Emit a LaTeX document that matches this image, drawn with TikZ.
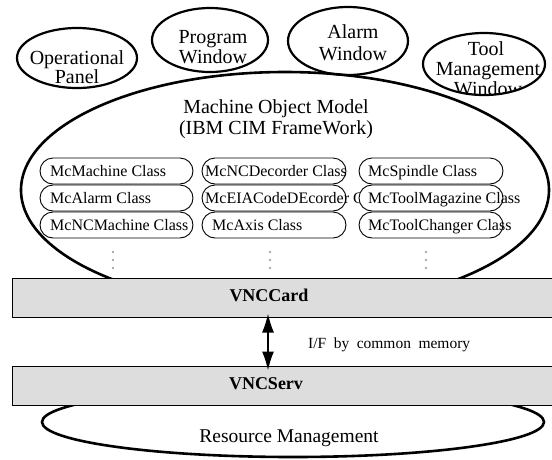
\documentclass[tikz,border=0pt]{standalone}
\usepackage{fontspec}
\setmainfont{Liberation Serif}
\usetikzlibrary{arrows.meta}
\definecolor{boxgray}{RGB}{221,221,221}
\begin{document}
\begin{tikzpicture}[x=1pt,y=-1pt,
  winell/.style={draw, line width=2.2pt},
  bigell/.style={draw, line width=2.6pt},
  wtext/.style={anchor=base, inner sep=0pt, font=\fontsize{20}{20}\selectfont},
  clsbox/.style={draw, line width=0.9pt, rounded corners=13pt, minimum width=153pt, minimum height=26pt, inner sep=0pt, fill=white},
  clstext/.style={anchor=base west, inner sep=0pt, font=\fontsize{16}{16}\selectfont},
  layerbox/.style={draw, line width=1pt, fill=boxgray, inner sep=0pt, minimum width=542pt, minimum height=39pt},
  layertext/.style={anchor=base, inner sep=0pt, font=\fontsize{18}{18}\selectfont\bfseries},
  dotmark/.style={fill=black!65, draw=none},
  dblarrow/.style={{Latex[length=19pt,width=12pt]}-{Latex[length=19pt,width=12pt]}, line width=1.5pt}
]
\useasboundingbox (0,0) rectangle (552,459);

% big ellipse
\draw[bigell] (285,190) ellipse [x radius=264, y radius=118];

% top windows
\draw[winell] (77,58) ellipse [x radius=60, y radius=30];
\node[wtext] (op1) at (77,64) {Operational};
\node[wtext] (op2) at (77,83) {Panel};

\draw[winell] (210,40) ellipse [x radius=58, y radius=32];
\node[wtext] (pw1) at (213,43) {Program};
\node[wtext] (pw2) at (213,63) {Window};

\draw[winell] (348,41) ellipse [x radius=60, y radius=34];
\node[wtext] (aw1) at (353,38) {Alarm};
\node[wtext] (aw2) at (353,60) {Window};

\begin{scope}
\clip (484,64) ellipse [x radius=61, y radius=31];
\node[wtext] (tm1) at (486,55) {Tool};
\node[wtext] (tm2) at (488,75) {Management};
\node[wtext] (tm3) at (488,95) {Window};
\end{scope}
\draw[winell] (484,64) ellipse [x radius=61, y radius=31];

% model title
\node[wtext] (mom1) at (276,113) {Machine Object Model};
\node[wtext] (mom2) at (276,134) {(IBM CIM FrameWork)};

% column 1
\node[clsbox] (c11) at (116.5,171) {};
\node[clsbox] (c12) at (116.5,198) {};
\node[clsbox] (c13) at (116.5,225) {};
\node[clstext] (t11) at (50,176) {McMachine Class};
\node[clstext] (t12) at (50,203) {McAlarm Class};
\node[clstext] (t13) at (50,230) {McNCMachine Class};

% column 2
\node[clsbox, minimum width=144pt] (c21) at (274,171) {};
\node[clsbox, minimum width=144pt] (c22) at (274,198) {};
\node[clsbox, minimum width=144pt] (c23) at (274,225) {};
\node[clstext] (t21) at (205,176) {McNCDecorder Class};
\node[clstext] (t22) at (205,203) {McEIACodeDEcorder Class};
\node[clstext] (t23) at (212,230) {McAxis Class};

% column 3
\node[clsbox, minimum width=144pt] (c31) at (431,171) {};
\node[clsbox, minimum width=144pt] (c32) at (431,198) {};
\node[clsbox, minimum width=144pt] (c33) at (431,225) {};
\node[clstext] (t31) at (368,176) {McSpindle Class};
\node[clstext] (t32) at (368,203) {McToolMagazine Class};
\node[clstext] (t33) at (368,230) {McToolChanger Class};

% vertical dots
\foreach \xx in {113,270,426}{
  \foreach \yy in {252,260,268}{
    \fill[dotmark] (\xx,\yy) circle [radius=0.9pt];
  }
}

% resource management
\draw[bigell] (293,422) ellipse [x radius=251, y radius=35];
\node[wtext, font=\fontsize{19.5}{19.5}\selectfont] (rm) at (289,442) {Resource Management};

% layer boxes
\node[layerbox] (card) at (283,297.5) {};
\node[layerbox] (serv) at (283.5,385.5) {};
\node[layertext] (cardt) at (269,301) {VNCCard};
\node[layertext] (servt) at (266,389) {VNCServ};

% arrow
\coordinate (ax) at (268,340);
\draw[dblarrow, shorten <=-4pt, shorten >=-5pt] (card.south -| ax) -- (serv.north -| ax);
\node[anchor=base west, inner sep=0pt, font=\fontsize{15.5}{15.5}\selectfont] (iflbl) at (308,348) {\spaceskip=7.5pt\relax I/F by common memory};
\end{tikzpicture}
\end{document}
